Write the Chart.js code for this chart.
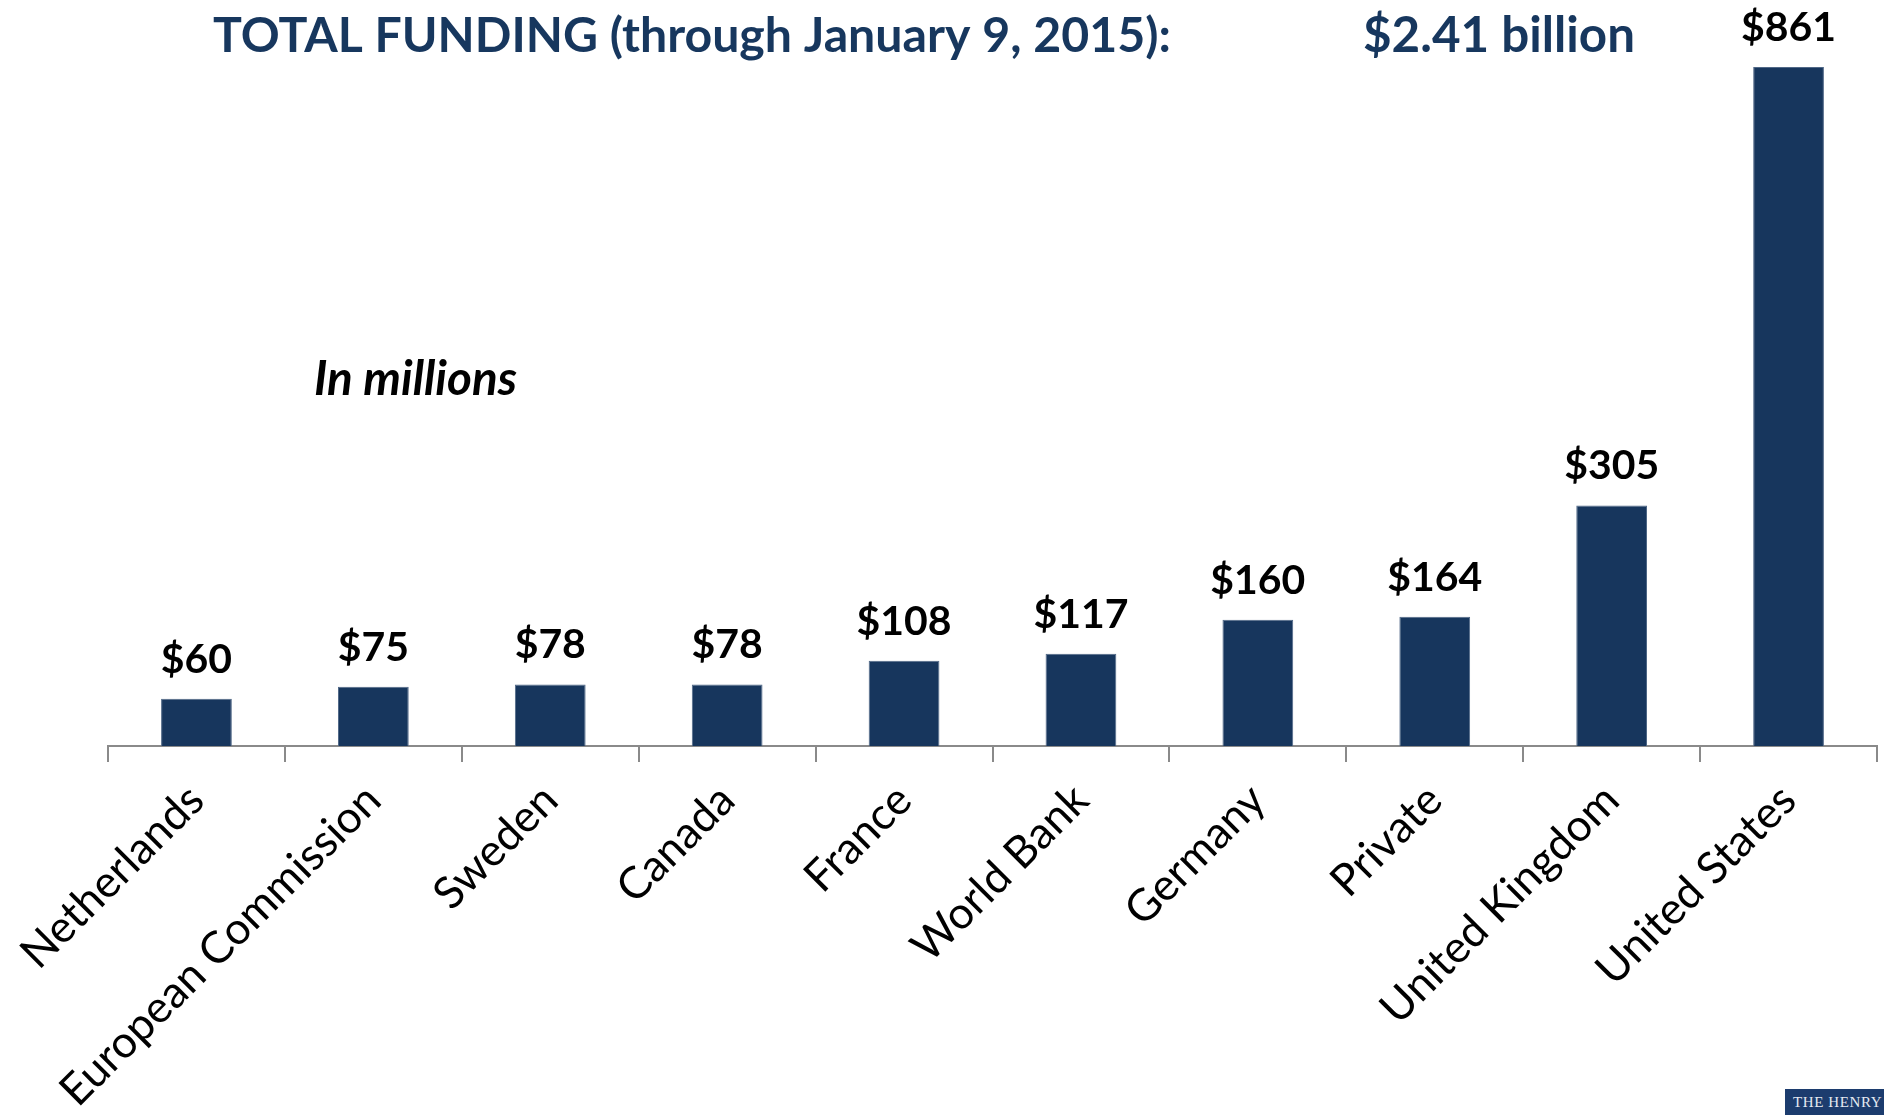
<!DOCTYPE html>
<html><head><meta charset="utf-8">
<script src="https://cdn.jsdelivr.net/npm/chart.js@4.4.1/dist/chart.umd.min.js"></script>
<style>
html,body{margin:0;padding:0;background:#fff;overflow:hidden}
#wrap{position:relative;width:1884px;height:1115px}
#logo{position:absolute;left:1785px;top:1089px;width:99px;height:26px;background:#1c3c6e;color:#e6eaf2;font-family:'Liberation Serif','DejaVu Serif',serif;font-size:15px;line-height:27px;padding-left:8px;box-sizing:border-box;white-space:nowrap;overflow:hidden;letter-spacing:0.6px}
</style></head><body>
<div id="wrap"><canvas id="c" width="1884" height="1115"></canvas><div id="logo">THE HENRY</div></div>
<script>
const categories = ['Netherlands','European Commission','Sweden','Canada','France','World Bank','Germany','Private','United Kingdom','United States'];
const fundingMillions = [60, 75, 78, 78, 108, 117, 160, 164, 305, 861];
const valueLabels = fundingMillions.map(v => '$' + v);
const titleText = 'TOTAL FUNDING (through January 9, 2015):';
const totalText = '$2.41 billion';
const unitNote = 'In millions';

const FAMILY = 'Lato, "Open Sans", sans-serif';
const mctx = document.createElement('canvas').getContext('2d');
function fit(text, style, target){
  mctx.font = style + ' 100px ' + FAMILY;
  return 100 * target / mctx.measureText(text).width;
}
const titleSize = fit(titleText, 'bold', 958);
const totalSize = fit(totalText, 'bold', 272);
const noteSize = fit(unitNote, 'italic bold', 203);
const valueSize = fit('$861', 'bold', 95);
const tickSize = fit('European Commission', 'normal', 432);

const annot = {
  id: 'annot',
  afterDatasetsDraw(chart){
    const ctx = chart.ctx;
    const meta = chart.getDatasetMeta(0);
    ctx.save();
    ctx.textBaseline = 'alphabetic';
    ctx.fillStyle = '#000';
    ctx.textAlign = 'center';
    ctx.font = 'bold ' + valueSize + 'px ' + FAMILY;
    meta.data.forEach((bar, i) => ctx.fillText(valueLabels[i], bar.x, bar.y - 26));
    ctx.textAlign = 'left';
    ctx.fillStyle = '#17375E';
    ctx.font = 'bold ' + titleSize + 'px ' + FAMILY;
    ctx.fillText(titleText, 213, 52);
    ctx.font = 'bold ' + totalSize + 'px ' + FAMILY;
    ctx.fillText(totalText, 1363, 52);
    ctx.fillStyle = '#000';
    ctx.font = 'italic bold ' + noteSize + 'px ' + FAMILY;
    ctx.fillText(unitNote, 314, 395);
    ctx.restore();
  }
};

new Chart(document.getElementById('c'), {
  type: 'bar',
  data: {
    labels: categories,
    datasets: [{
      data: fundingMillions,
      backgroundColor: '#17365D',
      borderColor: '#506887',
      borderWidth: 1,
      categoryPercentage: 1,
      barPercentage: 0.4
    }]
  },
  options: {
    responsive: false,
    animation: false,
    devicePixelRatio: 1,
    layout: { padding: { left: 108, right: 7, top: 0, bottom: 0 } },
    plugins: { legend: { display: false }, tooltip: { enabled: false }, title: { display: false } },
    scales: {
      x: {
        offset: true,
        grid: { offset: true, drawOnChartArea: false, color: '#8a8a8a', lineWidth: 2, tickLength: 16, tickWidth: 2 },
        border: { display: true, color: '#8a8a8a', width: 2 },
        ticks: { minRotation: 45, maxRotation: 45, autoSkip: false, color: '#000', padding: 12,
                 font: { family: FAMILY, size: tickSize } },
        afterFit(s){ s.height = 369; }
      },
      y: { display: false, min: 0, max: 946 }
    }
  },
  plugins: [annot]
});
</script>
</body></html>
